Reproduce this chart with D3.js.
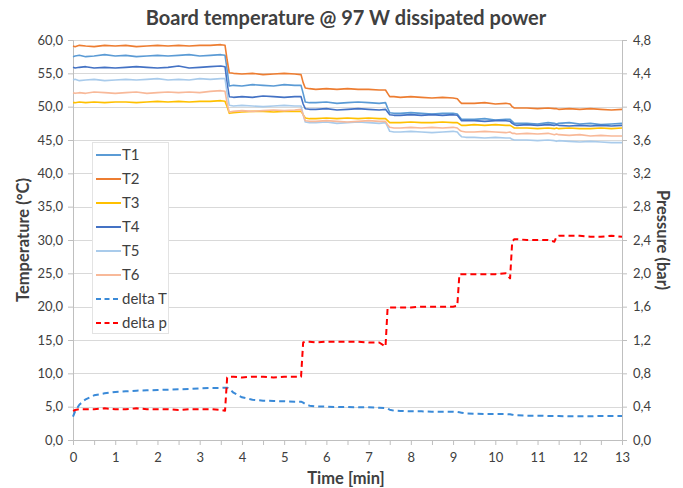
<!DOCTYPE html>
<html>
<head>
<meta charset="utf-8">
<script src="https://cdn.jsdelivr.net/npm/d3@7"></script>
<style>
  body { margin: 0; background: #fff; }
  text { font-family: Lato, "Open Sans", sans-serif; fill: #404040; }
</style>
</head>
<body>
<div class="chart"></div>
<script>
var svgWidth = 683;
var svgHeight = 488;

var margin = { top: 40, right: 61, bottom: 48, left: 73 };
var width = svgWidth - margin.left - margin.right;
var height = svgHeight - margin.top - margin.bottom;

// time axis (min)
var time = [0, 0.05, 0.15, 0.3, 0.5, 0.75, 1, 1.25, 1.5, 1.75, 2, 2.25, 2.5, 2.75, 3, 3.25, 3.5, 3.6,
    3.65, 3.7, 3.8, 4, 4.25, 4.5, 4.75, 5, 5.25, 5.4,
    5.45, 5.5, 5.6, 5.75, 6, 6.25, 6.5, 6.75, 7, 7.25, 7.4,
    7.45, 7.5, 7.6, 7.75, 8, 8.25, 8.5, 8.75, 9, 9.1,
    9.15, 9.2, 9.3, 9.5, 9.75, 10, 10.25, 10.35,
    10.4, 10.45, 10.5, 10.75, 11, 11.25, 11.4, 11.45, 11.5, 11.75, 12, 12.25, 12.5, 12.75, 13];

var T1 = [57.5, 57.6, 57.7, 57.5, 57.6, 57.8, 57.6, 57.7, 57.5, 57.6, 57.7, 57.6, 57.7, 57.8, 57.6, 57.7, 57.8, 57.7,
    55.5, 53.1, 53.2, 53.1, 53.3, 53.2, 53.1, 53.3, 53.2, 53.2,
    52.0, 50.7, 50.6, 50.6, 50.7, 50.5, 50.6, 50.7, 50.6, 50.5, 50.6,
    49.8, 49.1, 49.0, 49.0, 49.1, 49.0, 48.9, 49.0, 49.0, 48.9,
    48.5, 48.1, 48.1, 48.1, 48.2, 48.0, 48.1, 48.1,
    47.8, 47.5, 47.5, 47.5, 47.4, 47.6, 47.5, 47.4, 47.5, 47.6, 47.4, 47.5, 47.3, 47.4, 47.5];
var T2 = [59.1, 59.0, 59.2, 59.1, 59.0, 59.2, 59.1, 59.2, 59.0, 59.1, 59.2, 59.1, 59.2, 59.1, 59.2, 59.2, 59.3, 59.2,
    57.0, 55.1, 55.0, 54.9, 55.0, 54.8, 54.9, 55.0, 54.9, 54.8,
    53.6, 52.8, 52.7, 52.6, 52.7, 52.6, 52.7, 52.6, 52.6, 52.5, 52.5,
    52.0, 51.5, 51.5, 51.4, 51.5, 51.4, 51.3, 51.4, 51.3, 51.2,
    50.8, 50.5, 50.5, 50.5, 50.6, 50.4, 50.5, 50.4,
    50.0, 49.8, 49.8, 49.8, 49.7, 49.8, 49.7, 49.7, 49.6, 49.7, 49.6, 49.7, 49.6, 49.5, 49.6];
var T3 = [50.6, 50.6, 50.7, 50.6, 50.7, 50.6, 50.7, 50.7, 50.6, 50.7, 50.8, 50.7, 50.8, 50.7, 50.8, 50.8, 50.9, 50.8,
    50.0, 49.0, 49.1, 49.2, 49.3, 49.3, 49.2, 49.3, 49.3, 49.3,
    48.8, 48.3, 48.2, 48.2, 48.3, 48.2, 48.3, 48.2, 48.3, 48.2, 48.2,
    47.9, 47.6, 47.6, 47.6, 47.7, 47.6, 47.6, 47.7, 47.6, 47.6,
    47.4, 47.2, 47.2, 47.3, 47.2, 47.3, 47.2, 47.2,
    47.0, 46.8, 46.8, 46.8, 46.7, 46.8, 46.7, 46.8, 46.7, 46.8, 46.7, 46.7, 46.8, 46.7, 46.8];
var T4 = [55.9, 55.8, 55.9, 56.0, 55.8, 55.9, 55.8, 55.9, 56.0, 55.9, 55.8, 55.9, 56.1, 55.8, 55.9, 56.0, 56.1, 56.0,
    53.5, 51.5, 51.4, 51.5, 51.4, 51.6, 51.5, 51.4, 51.5, 51.5,
    50.4, 49.7, 49.6, 49.6, 49.7, 49.5, 49.6, 49.7, 49.6, 49.5, 49.6,
    49.2, 48.8, 48.7, 48.7, 48.8, 48.7, 48.8, 48.7, 48.8, 48.7,
    48.3, 47.9, 47.9, 47.9, 47.8, 47.9, 47.9, 47.8,
    47.5, 47.3, 47.2, 47.3, 47.2, 47.3, 47.2, 47.3, 47.2, 47.1, 47.2, 47.1, 47.2, 47.1, 47.2];
var T5 = [54.0, 54.1, 53.9, 54.0, 54.1, 53.9, 54.0, 54.1, 54.0, 54.1, 54.2, 54.0, 54.1, 54.0, 54.2, 54.1, 54.2, 54.2,
    52.0, 50.2, 50.1, 50.2, 50.1, 50.0, 50.1, 50.2, 50.1, 50.1,
    48.8, 47.7, 47.6, 47.6, 47.7, 47.5, 47.6, 47.7, 47.6, 47.5, 47.6,
    47.0, 46.3, 46.2, 46.2, 46.3, 46.2, 46.1, 46.2, 46.3, 46.2,
    45.8, 45.5, 45.4, 45.4, 45.3, 45.4, 45.3, 45.3,
    45.1, 45.0, 45.0, 45.0, 44.9, 45.0, 44.9, 44.8, 44.9, 44.8, 44.7, 44.8, 44.7, 44.6, 44.6];
var T6 = [52.1, 52.0, 52.1, 52.0, 52.2, 52.1, 52.0, 52.1, 52.2, 52.0, 52.1, 52.2, 52.1, 52.2, 52.1, 52.3, 52.4, 52.3,
    50.5, 49.2, 49.3, 49.4, 49.3, 49.4, 49.5, 49.4, 49.5, 49.6,
    48.8, 47.9, 47.8, 47.8, 47.9, 47.8, 47.7, 47.8, 47.9, 47.8, 47.8,
    47.3, 46.9, 46.8, 46.8, 46.9, 46.8, 46.9, 46.8, 46.9, 46.8,
    46.5, 46.3, 46.2, 46.2, 46.3, 46.2, 46.1, 46.2,
    46.0, 46.0, 45.9, 46.0, 45.9, 46.0, 45.8, 45.9, 45.8, 45.7, 45.8, 45.6, 45.7, 45.6, 45.6];
// delta T in degC (left axis)
var deltaT = [3.5, 4.3, 5.3, 6.1, 6.7, 7.0, 7.2, 7.3, 7.4, 7.45, 7.5, 7.55, 7.6, 7.65, 7.75, 7.8, 7.8, 7.85,
    7.85, 7.7, 7.1, 6.4, 6.05, 5.9, 5.85, 5.8, 5.75, 5.75,
    5.6, 5.4, 5.15, 5.05, 5.0, 4.95, 4.95, 4.9, 4.9, 4.85, 4.8,
    4.7, 4.55, 4.4, 4.35, 4.3, 4.3, 4.25, 4.25, 4.25, 4.2,
    4.15, 4.1, 4.0, 3.95, 3.9, 3.9, 3.9, 3.85,
    3.8, 3.75, 3.7, 3.65, 3.65, 3.6, 3.6, 3.6, 3.6, 3.55, 3.55, 3.55, 3.6, 3.6, 3.6];
// delta p in bar (right axis)
var deltaP = [0.35, 0.36, 0.37, 0.37, 0.37, 0.38, 0.37, 0.37, 0.38, 0.37, 0.37, 0.37, 0.36, 0.37, 0.37, 0.37, 0.36, 0.35,
    0.75, 0.76, 0.76, 0.75, 0.76, 0.76, 0.75, 0.76, 0.76, 0.76,
    1.17, 1.18, 1.18, 1.17, 1.18, 1.18, 1.18, 1.18, 1.17, 1.17, 1.12,
    1.59, 1.59, 1.59, 1.59, 1.59, 1.60, 1.60, 1.60, 1.60, 1.61,
    1.99, 1.99, 1.99, 1.99, 1.99, 1.99, 2.00, 1.94,
    2.38, 2.41, 2.41, 2.40, 2.40, 2.40, 2.38, 2.44, 2.45, 2.45, 2.45, 2.44, 2.44, 2.45, 2.44];

var tempTicks = [0, 5, 10, 15, 20, 25, 30, 35, 40, 45, 50, 55, 60];
var pressTicks = [0, 0.4, 0.8, 1.2, 1.6, 2.0, 2.4, 2.8, 3.2, 3.6, 4.0, 4.4, 4.8];
var timeTicks = [0, 1, 2, 3, 4, 5, 6, 7, 8, 9, 10, 11, 12, 13];

var seriesNames = ["T1", "T2", "T3", "T4", "T5", "T6", "delta T", "delta p"];
var seriesColors = ["#5b9bd5", "#ed7d31", "#ffc000", "#4472c4", "#a9cbeb", "#f8b999", "#3a8ad8", "#ff0000"];

var svg = d3.select(".chart")
    .append("svg")
    .attr("width", svgWidth)
    .attr("height", svgHeight);

var chartGroup = svg.append("g")
    .attr("transform", `translate(${margin.left}, ${margin.top})`);

var xScale = d3.scaleLinear().domain([0, 13]).range([0, width]);
var yLeft = d3.scaleLinear().domain([0, 60]).range([height, 0]);
var yRight = d3.scaleLinear().domain([0, 4.8]).range([height, 0]);

var comma = d => d3.format(".1f")(d).replace(".", ",");

// gridlines
chartGroup.append("g")
    .selectAll("line")
    .data(tempTicks)
    .enter()
    .append("line")
    .attr("x1", 0)
    .attr("x2", width)
    .attr("y1", d => Math.round(yLeft(d)) + 0.5)
    .attr("y2", d => Math.round(yLeft(d)) + 0.5)
    .attr("stroke", "#d9d9d9");

var leftAxis = d3.axisLeft(yLeft).tickValues(tempTicks).tickFormat(comma).tickSize(5).tickPadding(5);
var rightAxis = d3.axisRight(yRight).tickValues(pressTicks).tickFormat(comma).tickSize(5).tickPadding(6);
var bottomAxis = d3.axisBottom(xScale).tickValues(d3.range(0, 13.01, 0.5)).tickSize(5).tickPadding(8)
    .tickFormat(d => timeTicks.includes(d) ? d : "");

function styleAxis(g) {
    g.select(".domain").attr("stroke", "#bfbfbf");
    g.selectAll(".tick line").attr("stroke", "#bfbfbf");
    g.selectAll(".tick text").style("font-size", "13px").attr("fill", "#404040");
}

chartGroup.append("g").call(leftAxis).call(styleAxis);
chartGroup.append("g").attr("transform", `translate(${width},0)`).call(rightAxis).call(styleAxis);
chartGroup.append("g").attr("transform", `translate(0,${height})`).call(bottomAxis).call(styleAxis);

// series
var allSeries = [T1, T2, T3, T4, T5, T6, deltaT, deltaP];
allSeries.forEach(function (vals, i) {
    var yS = i === 7 ? yRight : yLeft;
    var line = d3.line()
        .x((d, j) => xScale(time[j]))
        .y(d => yS(d));
    chartGroup.append("path")
        .datum(vals)
        .attr("d", line)
        .attr("fill", "none")
        .attr("stroke", seriesColors[i])
        .attr("stroke-width", i >= 6 ? 2 : 1.6)
        .attr("stroke-dasharray", i >= 6 ? "6,4" : null)
        .attr("stroke-linejoin", "round");
});

// legend
var legend = svg.append("g").attr("transform", "translate(92, 142)");
legend.append("rect")
    .attr("x", 0.5).attr("y", 0.5)
    .attr("width", 76).attr("height", 191)
    .attr("fill", "#fff")
    .attr("stroke", "#e3e3e3");
seriesNames.forEach(function (name, i) {
    var ly = 13 + i * 24;
    legend.append("line")
        .attr("x1", 4).attr("x2", 29)
        .attr("y1", ly).attr("y2", ly)
        .attr("stroke", seriesColors[i])
        .attr("stroke-width", 2)
        .attr("stroke-dasharray", i >= 6 ? "5,3.5" : null);
    legend.append("text")
        .attr("x", 30).attr("y", ly + 5)
        .style("font-size", "15px")
        .text(name);
});

// titles
svg.append("text")
    .attr("x", 346).attr("y", 25)
    .attr("text-anchor", "middle")
    .style("font-size", "20px").style("font-weight", "bold")
    .attr("fill", "#262626")
    .text("Board temperature @ 97 W dissipated power");

svg.append("text")
    .attr("transform", "translate(29, 240) rotate(-90)")
    .attr("text-anchor", "middle")
    .style("font-size", "16.5px").style("font-weight", "bold")
    .attr("fill", "#262626")
    .text("Temperature (°C)");

svg.append("text")
    .attr("transform", "translate(657, 240) rotate(90)")
    .attr("text-anchor", "middle")
    .style("font-size", "16.5px").style("font-weight", "bold")
    .attr("fill", "#262626")
    .text("Pressure (bar)");

svg.append("text")
    .attr("x", 346).attr("y", 484)
    .attr("text-anchor", "middle")
    .style("font-size", "16.5px").style("font-weight", "bold")
    .attr("fill", "#262626")
    .text("Time [min]");
</script>
</body>
</html>
